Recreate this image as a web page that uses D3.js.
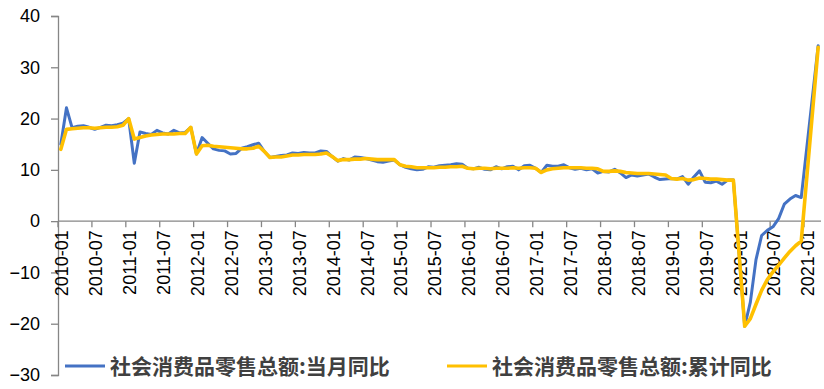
<!DOCTYPE html>
<html>
<head>
<meta charset="utf-8">
<script src="https://cdn.jsdelivr.net/npm/d3@7"></script>
<style>
  body { margin: 0; background: #fff; }
  .axis text { font-family: "Liberation Sans", Arial, sans-serif; font-size: 18px; fill: #000; }
  .legend text { font-family: "Noto Sans CJK SC", sans-serif; font-weight: bold; font-size: 21px; fill: #404040; }
</style>
</head>
<body>
<div id="chart"></div>
<script>
//------------------------------DATA------------------------------//
const startMonth = new Date(2010, 0, 1);
const endMonth = new Date(2021, 3, 1); // exclusive -> last month 2021-03
const yTicks = [-30, -20, -10, 0, 10, 20, 30, 40];
const seriesNames = ["社会消费品零售总额:当月同比", "社会消费品零售总额:累计同比"];

// 当月同比, 2010-01 .. 2021-03
const monthlyYoY = [
  15.0, 22.1, 18.2, 18.5, 18.6, 18.3, 17.9, 18.3, 18.7, 18.6, 18.8, 19.1,
  20.0, 11.3, 17.4, 17.1, 16.9, 17.7, 17.2, 17.0, 17.7, 17.2, 17.3, 18.3,
  13.1, 16.3, 15.2, 14.1, 13.8, 13.7, 13.1, 13.2, 14.2, 14.5, 14.9, 15.2,
  13.6, 12.4, 12.6, 12.8, 12.9, 13.3, 13.2, 13.4, 13.3, 13.3, 13.7, 13.6,
  12.6, 11.7, 12.2, 11.9, 12.5, 12.4, 12.2, 11.9, 11.6, 11.5, 11.7, 11.9,
  11.0, 10.5, 10.2, 10.0, 10.1, 10.6, 10.5, 10.8, 10.9, 11.0, 11.2, 11.1,
  10.3, 10.2, 10.5, 10.1, 10.0, 10.6, 10.2, 10.6, 10.7, 10.0, 10.8, 10.9,
  10.3, 9.5, 10.9, 10.7, 10.7, 11.0, 10.4, 10.1, 10.3, 10.0, 10.2, 9.4,
  9.7, 9.6, 10.1, 9.4, 8.5, 9.0, 8.8, 9.0, 9.2, 8.6, 8.1, 8.2,
  8.3, 8.2, 8.7, 7.2, 8.6, 9.8, 7.6, 7.5, 7.8, 7.2, 8.0, 8.0,
  null, -20.5, -15.8, -7.5, -2.8, -1.8, -1.1, 0.5, 3.3, 4.3, 5.0, 4.6,
  null, null, 34.2
];

// 累计同比, 2010-01 .. 2021-03
const cumulativeYoY = [
  14.0, 17.9, 18.0, 18.1, 18.2, 18.2, 18.1, 18.2, 18.3, 18.3, 18.4, 18.7,
  20.0, 16.0, 16.3, 16.6, 16.8, 16.9, 17.0, 17.0, 17.0, 17.1, 17.1, 18.3,
  13.1, 14.7, 14.8, 14.6, 14.5, 14.4, 14.3, 14.2, 14.1, 14.1, 14.2, 14.6,
  13.6, 12.4, 12.5, 12.5, 12.7, 12.9, 12.9, 13.0, 13.0, 13.0, 13.1, 13.3,
  12.6, 11.8, 12.0, 12.0, 12.1, 12.1, 12.2, 12.1, 12.0, 12.0, 12.0, 12.0,
  11.0, 10.7, 10.6, 10.4, 10.4, 10.4, 10.4, 10.5, 10.5, 10.6, 10.6, 10.7,
  10.3, 10.2, 10.3, 10.3, 10.2, 10.3, 10.3, 10.3, 10.4, 10.3, 10.4, 10.4,
  10.3, 9.5, 10.0, 10.2, 10.3, 10.4, 10.4, 10.4, 10.4, 10.3, 10.3, 10.2,
  9.7, 9.7, 9.8, 9.7, 9.5, 9.4, 9.3, 9.3, 9.3, 9.2, 9.1, 9.0,
  8.3, 8.2, 8.3, 8.0, 8.1, 8.4, 8.3, 8.2, 8.2, 8.1, 8.0, 8.0,
  null, -20.5, -19.0, -16.2, -13.5, -11.4, -9.9, -8.6, -7.2, -5.9, -4.8, -3.9,
  null, null, 33.9
];

//-----------------------------SVG--------------------------------//
const width = 824;
const height = 389;
const colors = ["#4472C4", "#FFC000"];

const svg = d3.select("#chart").append("svg")
  .attr("width", width)
  .attr("height", height);

const fmt = d3.timeFormat("%Y-%m");
const months = d3.timeMonth.range(startMonth, endMonth).map(fmt);

//----------------------------SCALES------------------------------//
const xScale = d3.scaleBand()
  .domain(months)
  .range([58, 821])
  .paddingInner(0)
  .paddingOuter(0);

const yScale = d3.scaleLinear()
  .domain([-30, 40])
  .range([375, 16]);

const cx = m => xScale(m) + xScale.bandwidth() / 2;

//-----------------------------AXES-------------------------------//
// y axis
const yAxis = svg.append("g")
  .attr("class", "axis")
  .attr("transform", "translate(58,0)")
  .call(d3.axisLeft(yScale).tickValues(yTicks).tickSize(7).tickPadding(11));
yAxis.select(".domain").attr("stroke", "#868686").attr("stroke-width", 1.3);
yAxis.selectAll(".tick line").attr("stroke", "#868686").attr("stroke-width", 1.3);

// x axis sits on y = 0, ticks at category boundaries every 6 months
const labelMonths = months.filter((m, i) => i % 6 === 0);
const xAxis = svg.append("g")
  .attr("class", "axis")
  .attr("transform", "translate(0," + yScale(0) + ")");

xAxis.append("line")
  .attr("x1", xScale.range()[0])
  .attr("x2", xScale.range()[1])
  .attr("stroke", "#868686")
  .attr("stroke-width", 1.3);

xAxis.selectAll(".xtick")
  .data(labelMonths)
  .enter()
  .append("line")
  .attr("x1", d => xScale(d))
  .attr("x2", d => xScale(d))
  .attr("y1", 0)
  .attr("y2", 6)
  .attr("stroke", "#868686")
  .attr("stroke-width", 1.3);

xAxis.selectAll(".xlabel")
  .data(labelMonths)
  .enter()
  .append("text")
  .attr("transform", d => "translate(" + (cx(d) + 1) + ",9) rotate(-90)")
  .attr("text-anchor", "end")
  .attr("dy", "0.36em")
  .text(d => d);

//----------------------------LINES-------------------------------//
const line = d3.line()
  .x(d => cx(d.month))
  .y(d => yScale(d.value));

[monthlyYoY, cumulativeYoY].forEach(function(values, k) {
  const pts = months
    .map((m, i) => ({ month: m, value: values[i] }))
    .filter(d => d.value !== null && d.value !== undefined);
  svg.append("path")
    .attr("d", line(pts))
    .attr("fill", "none")
    .attr("stroke", colors[k])
    .attr("stroke-width", k === 0 ? 3 : 3.6)
    .attr("stroke-linejoin", "round")
    .attr("stroke-linecap", "round");
});

//----------------------------LEGEND------------------------------//
const legendPos = [65, 447];
const legend = svg.append("g").attr("class", "legend");
seriesNames.forEach(function(name, k) {
  legend.append("line")
    .attr("x1", legendPos[k])
    .attr("x2", legendPos[k] + 40)
    .attr("y1", 366)
    .attr("y2", 366)
    .attr("stroke", colors[k])
    .attr("stroke-width", 3);
  legend.append("text")
    .attr("x", legendPos[k] + 45)
    .attr("y", 366)
    .attr("dy", "0.36em")
    .text(name);
});
</script>
</body>
</html>
